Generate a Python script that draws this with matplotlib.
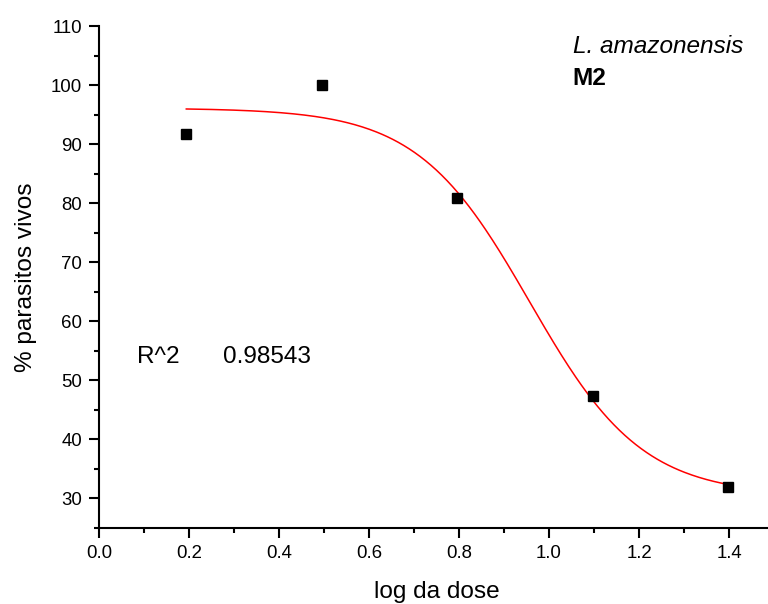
"""
Dose-response curve for L. amazonensis (M2), recreated with matplotlib.
"""
import matplotlib
import matplotlib.pyplot as plt
import numpy as np
from matplotlib.ticker import MultipleLocator, FormatStrFormatter

matplotlib.use("Agg")

# measured points: log of dose vs % of live parasites
log_dose = [0.194, 0.495, 0.796, 1.097, 1.398]
pct_alive = [91.7, 100.0, 80.8, 47.4, 32.0]

# fitted sigmoid (Boltzmann) parameters
fit_top = 96.1
fit_bottom = 30.5
fit_x0 = 0.957
fit_dx = 0.125
r_squared = "0.98543"

species = "L. amazonensis"
compound = "M2"

plt.rcParams["font.family"] = ["Liberation Sans", "DejaVu Sans"]

fig = plt.figure(figsize=(7.68, 6.04), dpi=100)
ax = fig.add_axes([0.1289, 0.1258, 0.8789, 0.8311])

# fitted curve over the span of the data
xs = np.linspace(min(log_dose), max(log_dose), 300)
ys = fit_bottom + (fit_top - fit_bottom) / (1 + np.exp((xs - fit_x0) / fit_dx))
ax.plot(xs, ys, color="red", linewidth=1.1, zorder=2)

ax.plot(log_dose, pct_alive, linestyle="none", marker="s", markersize=7,
        color="black", zorder=3)

ax.set_xlim(0, 1.5)
ax.set_ylim(25, 110)
ax.xaxis.set_major_locator(MultipleLocator(0.2))
ax.xaxis.set_minor_locator(MultipleLocator(0.1))
ax.xaxis.set_major_formatter(FormatStrFormatter("%.1f"))
ax.set_yticks(np.arange(30, 111, 10))
ax.yaxis.set_minor_locator(MultipleLocator(5))

for side in ("top", "right"):
    ax.spines[side].set_visible(False)
for side in ("left", "bottom"):
    ax.spines[side].set_linewidth(1.5)

ax.tick_params(which="major", direction="out", length=7, width=1.5,
               labelsize=13.4, pad=5)
ax.tick_params(which="minor", direction="out", length=3.5, width=1.5)

ax.set_xlabel("log da dose", fontsize=17.6, labelpad=14)
ax.set_ylabel("% parasitos vivos", fontsize=17.6, labelpad=10)

ax.text(0.056, 0.341, "R^2", transform=ax.transAxes, fontsize=17.6,
        va="center", ha="left")
ax.text(0.184, 0.341, r_squared, transform=ax.transAxes, fontsize=17.6,
        va="center", ha="left")
ax.text(0.702, 0.959, species, transform=ax.transAxes, fontsize=17.6,
        style="italic", va="center", ha="left")
ax.text(0.702, 0.895, compound, transform=ax.transAxes, fontsize=17.6,
        weight="bold", va="center", ha="left")

fig.savefig("out.png", dpi=100)
plt.close(fig)
